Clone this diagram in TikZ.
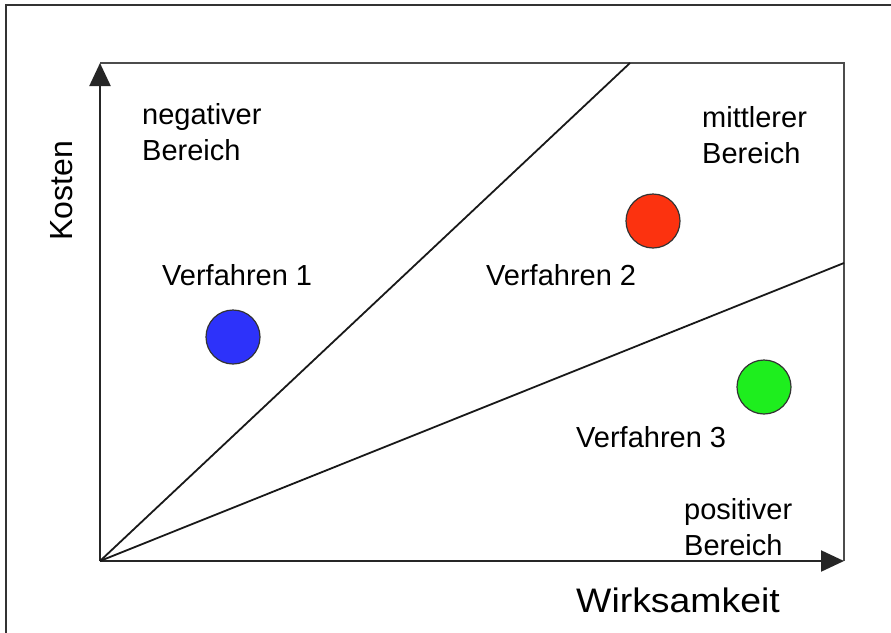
\documentclass[tikz,border=0pt]{standalone}
\usepackage{fontspec}
\setmainfont{Liberation Sans}
\usetikzlibrary{arrows.meta}
\definecolor{dotblue}{RGB}{45,50,250}
\definecolor{dotred}{RGB}{252,50,15}
\definecolor{dotgreen}{RGB}{30,238,30}
\begin{document}
\begin{tikzpicture}[x=1pt,y=-1pt,
  axisline/.style={line width=2.2pt,black!85},
  frameline/.style={line width=2.2pt,black!70},
  ray/.style={line width=1.8pt,black!90},
  label/.style={anchor=base west,inner sep=0pt,font=\fontsize{29}{36}\selectfont,align=left},
  axislabel/.style={inner sep=0pt,font=\fontsize{32}{38}\selectfont},
  dot/.style={circle,draw=black!80,line width=1.2pt,minimum size=54pt,inner sep=0pt}]
  \useasboundingbox (0,0) rectangle (891,632);
  % outer frame
  \draw[line width=1.5pt,black!80] (6,640) -- (6,5) -- (900,5);
  % axes corners
  \coordinate (O) at (100,561);
  \coordinate (ytop) at (100,63);
  \coordinate (xend) at (844,561);
  \coordinate (corner) at (844,63);
  \coordinate (rayA) at (630,63);
  \coordinate (rayB) at (844,263);
  % frame top and right
  \draw[frameline] (ytop) -- (corner) -- (xend);
  % axes with arrows
  \draw[axisline,-{Triangle[length=23pt,width=21pt]}] (O) -- (ytop);
  \draw[axisline,-{Triangle[length=23pt,width=21pt]}] (O) -- (xend);
  % region boundaries
  \draw[ray] (O) -- (rayA);
  \draw[ray] (O) -- (rayB);
  % region labels (anchored at the baseline of the last line)
  \node[label] (neg) at (142,160) {negativer\\Bereich};
  \node[label] (mid) at (702,163) {mittlerer\\Bereich};
  \node[label] (pos) at (684,555) {positiver\\Bereich};
  % procedures
  \node[dot,fill=dotblue] (v1dot) at (233,337) {};
  \node[dot,fill=dotred] (v2dot) at (653,221) {};
  \node[dot,fill=dotgreen] (v3dot) at (764,387) {};
  \node[label] (v1) at (162,285) {Verfahren 1};
  \node[label] (v2) at (486,285) {Verfahren 2};
  \node[label] (v3) at (576,447) {Verfahren 3};
  % axis titles
  \node[axislabel,anchor=base west,font=\fontsize{34}{40}\selectfont,xscale=1.1] (wx) at (576,612) {Wirksamkeit};
  \node[axislabel,rotate=90] (ky) at (62,191) {Kosten};
\end{tikzpicture}
\end{document}
